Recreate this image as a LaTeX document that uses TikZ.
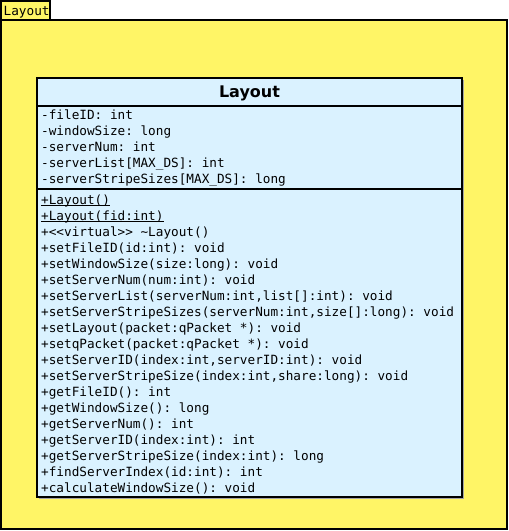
\documentclass[tikz,border=0pt]{standalone}
\usepackage{fontspec}
\setmainfont{DejaVu Sans}
\setmonofont{DejaVu Sans Mono}
\definecolor{pkgyellow}{RGB}{255,245,102}
\definecolor{clsblue}{RGB}{218,242,255}
\newcommand\myul[1]{\leavevmode\setbox0\hbox{#1}\rlap{\rule[-2pt]{\wd0}{0.9pt}}\box0}
\begin{document}
\begin{tikzpicture}[x=1pt,y=-1pt,
  member/.style={anchor=base west, inner sep=0pt, font=\fontsize{12.7}{16}\selectfont\ttfamily},
  titletext/.style={anchor=base, inner sep=0pt, font=\fontsize{16}{19}\selectfont\bfseries},
  frame/.style={draw=black, line width=2pt}]
\useasboundingbox (0,0) rectangle (509,531);
% package
\draw[frame, fill=pkgyellow] (1,20) rectangle (507,529);
\draw[draw=black, line width=1.5pt, fill=pkgyellow] (1,1) rectangle (50,20);
\node[member] (pkgname) at (3.5,15) {Layout};
% class
\fill[black!35] (39,80) rectangle (464,499);
\draw[frame, fill=clsblue] (37,78) rectangle (462,497);
\coordinate (d1l) at (37,106); \coordinate (d1r) at (462,106);
\coordinate (d2l) at (37,189); \coordinate (d2r) at (462,189);
\draw[frame] (d1l) -- (d1r);
\draw[frame] (d2l) -- (d2r);
\node[titletext] (title) at (249.5,97) {Layout};
% attributes
\node[member] (a1) at (41,119) {-fileID: int};
\node[member] (a2) at (41,135) {-windowSize: long};
\node[member] (a3) at (41,151) {-serverNum: int};
\node[member] (a4) at (41,167) {-serverList[MAX\_DS]: int};
\node[member] (a5) at (41,183) {-serverStripeSizes[MAX\_DS]: long};
% methods
\node[member] (m1) at (41,204) {\myul{+Layout()}};
\node[member] (m2) at (41,220) {\myul{+Layout(fid:int)}};
\node[member] (m3) at (41,236) {+{<}{<}virtual{>}{>} \textasciitilde Layout()};
\node[member] (m4) at (41,252) {+setFileID(id:int): void};
\node[member] (m5) at (41,268) {+setWindowSize(size:long): void};
\node[member] (m6) at (41,284) {+setServerNum(num:int): void};
\node[member] (m7) at (41,300) {+setServerList(serverNum:int,list[]:int): void};
\node[member] (m8) at (41,316) {+setServerStripeSizes(serverNum:int,size[]:long): void};
\node[member] (m9) at (41,332) {+setLayout(packet:qPacket *): void};
\node[member] (m10) at (41,348) {+setqPacket(packet:qPacket *): void};
\node[member] (m11) at (41,364) {+setServerID(index:int,serverID:int): void};
\node[member] (m12) at (41,380) {+setServerStripeSize(index:int,share:long): void};
\node[member] (m13) at (41,396) {+getFileID(): int};
\node[member] (m14) at (41,412) {+getWindowSize(): long};
\node[member] (m15) at (41,428) {+getServerNum(): int};
\node[member] (m16) at (41,444) {+getServerID(index:int): int};
\node[member] (m17) at (41,460) {+getServerStripeSize(index:int): long};
\node[member] (m18) at (41,476) {+findServerIndex(id:int): int};
\node[member] (m19) at (41,492) {+calculateWindowSize(): void};
\end{tikzpicture}
\end{document}
